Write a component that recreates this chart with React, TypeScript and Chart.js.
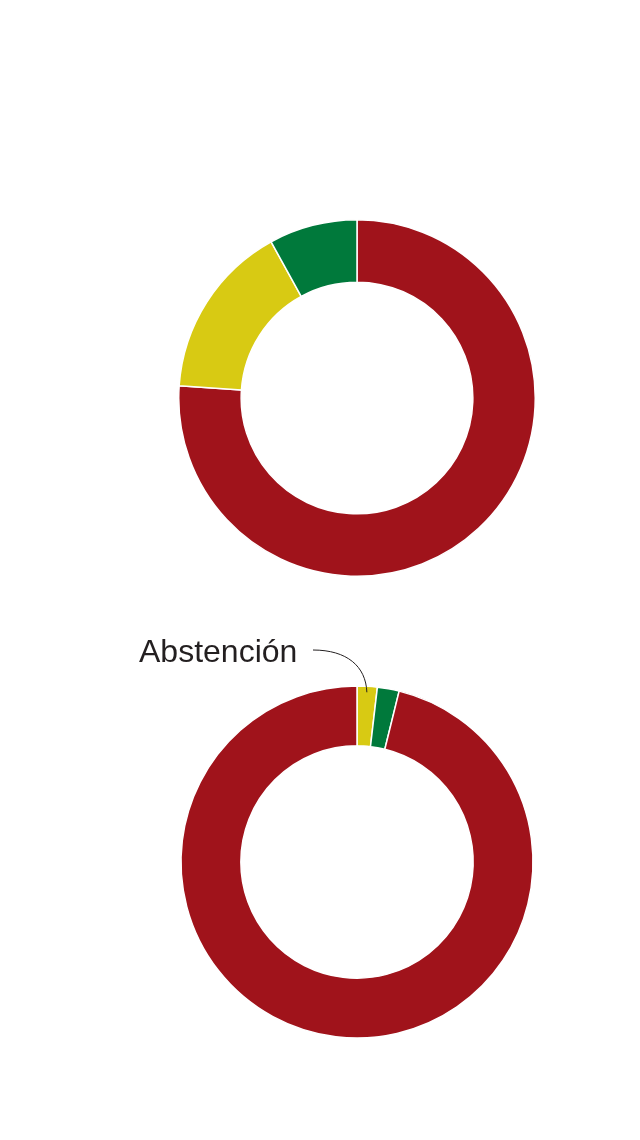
import React, { useEffect, useRef } from "react";
import { Chart, registerables } from "chart.js";

Chart.register(...registerables);

const topLabels = ["A favor", "Abstención", "En contra"];
const topValues = [76.1, 15.9, 8.0];
const topColors = ["#A0131B", "#D8CA13", "#00793B"];

const bottomLabels = ["Abstención", "En contra", "A favor"];
const bottomValues = [1.85, 2.0, 96.15];
const bottomColors = ["#D8CA13", "#00793B", "#A0131B"];

const annotationText = "Abstención";

const annotationPlugin = {
  id: "abstAnnot",
  afterDatasetsDraw(chart: any) {
    const meta = chart.getDatasetMeta(0);
    const arc = meta.data[0];
    if (!arc) return;
    const ctx = chart.ctx;
    const mid = (arc.startAngle + arc.endAngle) / 2;
    const r = arc.outerRadius - 6;
    const ex = arc.x + Math.cos(mid) * r;
    const ey = arc.y + Math.sin(mid) * r;
    ctx.save();
    ctx.fillStyle = "#231F20";
    ctx.font = '32px "Liberation Sans", Arial, sans-serif';
    ctx.textBaseline = "alphabetic";
    ctx.textAlign = "left";
    ctx.fillText(annotationText, 131, 54);
    const sx = 305;
    const sy = 42;
    ctx.beginPath();
    ctx.moveTo(sx, sy);
    ctx.bezierCurveTo(sx + 34, sy, ex - 1, ey - 26, ex, ey);
    ctx.strokeStyle = "#231F20";
    ctx.lineWidth = 1;
    ctx.stroke();
    ctx.restore();
  },
};

function Donut(props: {
  labels: string[];
  values: number[];
  colors: string[];
  cutout: string;
  style: React.CSSProperties;
  padding?: any;
  plugins?: any[];
}) {
  const ref = useRef<HTMLCanvasElement | null>(null);
  useEffect(() => {
    if (!ref.current) return;
    const chart = new Chart(ref.current, {
      type: "doughnut",
      data: {
        labels: props.labels,
        datasets: [
          {
            data: props.values,
            backgroundColor: props.colors,
            borderColor: "#ffffff",
            borderWidth: 1.5,
          },
        ],
      },
      options: {
        animation: false,
        responsive: true,
        maintainAspectRatio: false,
        cutout: props.cutout,
        layout: { padding: props.padding || 0 },
        plugins: {
          legend: { display: false },
          tooltip: { enabled: false },
        },
      },
      plugins: props.plugins || [],
    });
    return () => chart.destroy();
  }, []);
  return (
    <div style={{ position: "absolute", ...props.style }}>
      <canvas ref={ref} />
    </div>
  );
}

export default function App() {
  return (
    <div style={{ position: "relative", width: 624, height: 1124, background: "#fff" }}>
      <Donut
        labels={topLabels}
        values={topValues}
        colors={topColors}
        cutout="65%"
        style={{ left: 170, top: 211, width: 358, height: 358 }}
      />
      <Donut
        labels={bottomLabels}
        values={bottomValues}
        colors={bottomColors}
        cutout="66%"
        style={{ left: 0, top: 600, width: 624, height: 500 }}
        padding={{ left: 172.25, right: 98.25, top: 77.25, bottom: 69.25 }}
        plugins={[annotationPlugin]}
      />
    </div>
  );
}
